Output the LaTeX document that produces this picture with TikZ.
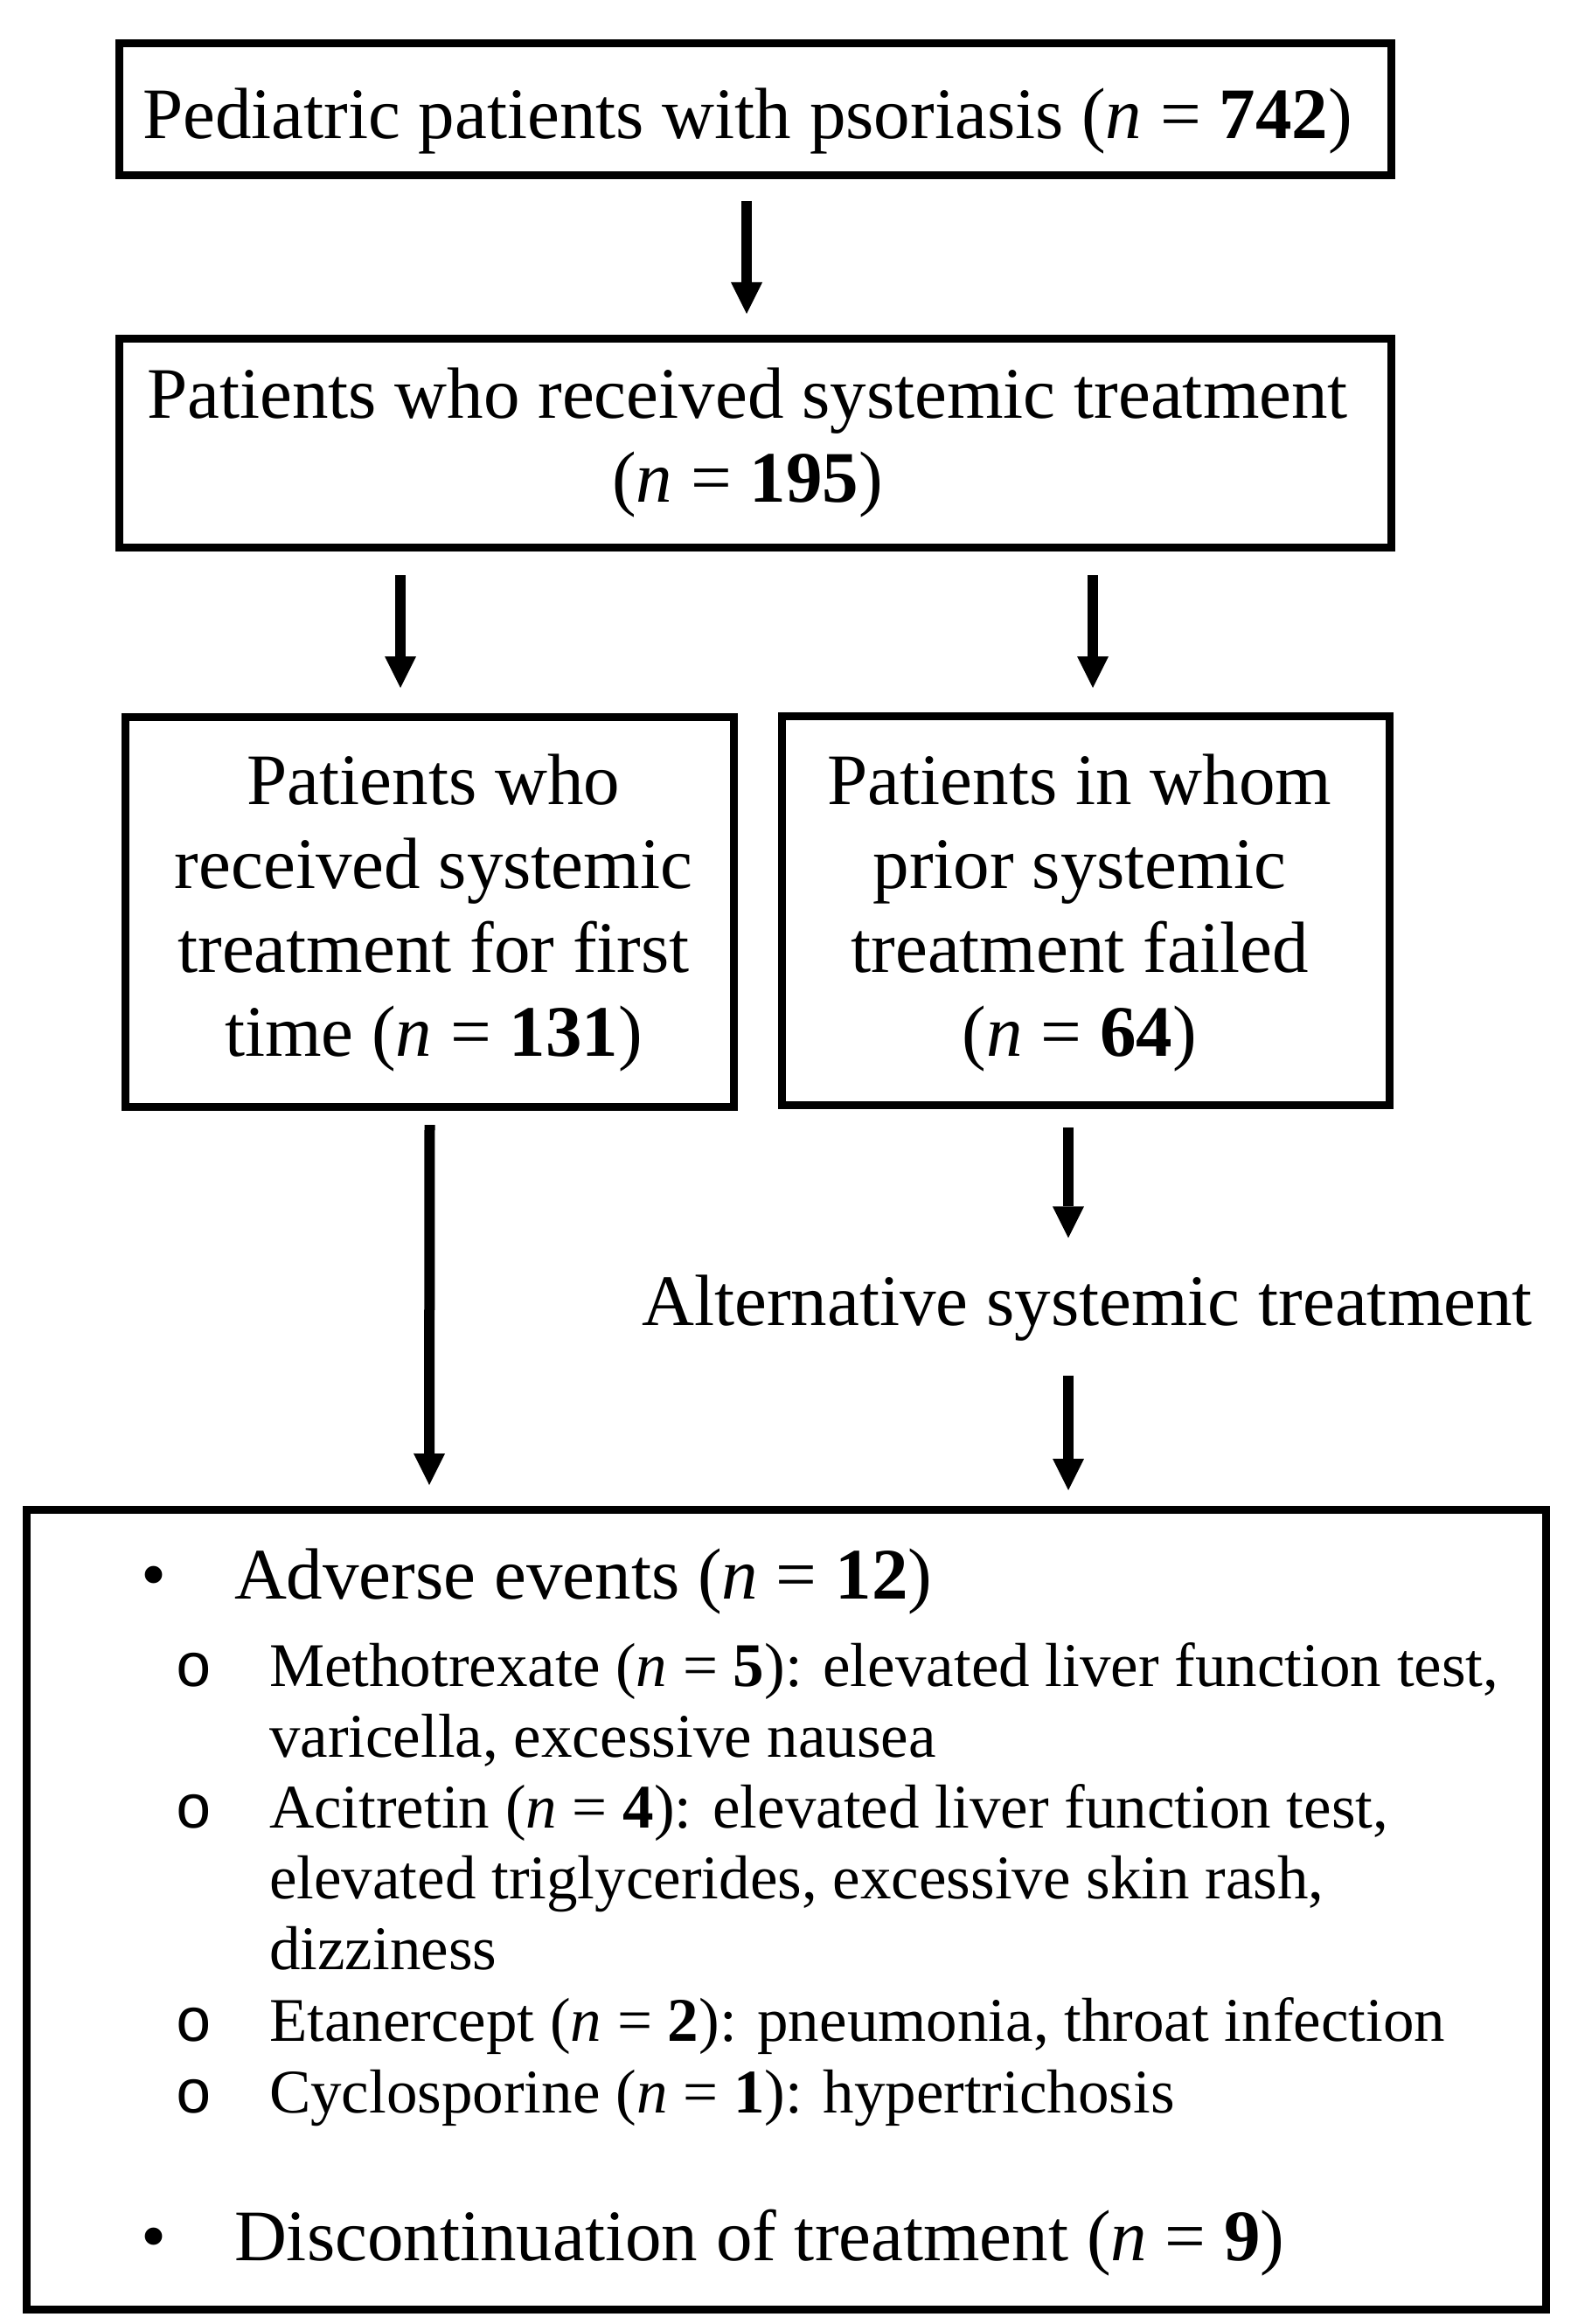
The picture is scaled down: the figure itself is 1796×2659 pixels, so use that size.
\documentclass[tikz,border=0pt]{standalone}
\usepackage{fontspec}
\setmainfont{Liberation Serif}
\newfontfamily\monofont{Liberation Mono}
\usetikzlibrary{arrows.meta}
\begin{document}
\begin{tikzpicture}[x=0.5pt,y=-0.5pt,
  box/.style={draw=black,line width=4.5pt,inner sep=0pt,outer sep=2.25pt},
  big/.style={font=\fontsize{41.5}{48}\selectfont,inner sep=0pt,outer sep=0pt},
  small/.style={font=\fontsize{35.5}{41}\selectfont,inner sep=0pt,outer sep=0pt},
  arr/.style={line width=6pt,-{Triangle[width=18pt,length=18pt,line width=0pt]}}]
\useasboundingbox[fill=white] (0,0) rectangle (1796,2659);
% boxes
\node[box,minimum width=727.5pt,minimum height=75.5pt] (b1) at (864,125) {};
\node[box,minimum width=727.5pt,minimum height=119.5pt] (b2) at (864,507) {};
\node[box,minimum width=348pt,minimum height=223pt] (b3) at (491.5,1043.5) {};
\node[box,minimum width=347.5pt,minimum height=222.5pt] (b4) at (1242,1042) {};
\node[box,minimum width=869pt,minimum height=457.5pt] (b5) at (899.5,2185) {};
% texts
\node[big,anchor=base] (t1) at (855,159) {Pediatric patients with psoriasis (\textit{n} = \textbf{742})};
\node[big,anchor=base] (t2a) at (855,478) {Patients who received systemic treatment};
\node[big,anchor=base] (t2b) at (855,574) {(\textit{n} = \textbf{195})};
\node[big,anchor=base] (t3a) at (496,920) {Patients who};
\node[big,anchor=base] (t3b) at (496,1016) {received systemic};
\node[big,anchor=base] (t3c) at (496,1112) {treatment for first};
\node[big,anchor=base] (t3d) at (496,1208) {time (\textit{n} = \textbf{131})};
\node[big,anchor=base] (t4a) at (1235,920) {Patients in whom};
\node[big,anchor=base] (t4b) at (1235,1016) {prior systemic};
\node[big,anchor=base] (t4c) at (1235,1112) {treatment failed};
\node[big,anchor=base] (t4d) at (1235,1208) {(\textit{n} = \textbf{64})};
\node[big,anchor=base] (alt) at (1243.5,1516) {Alternative systemic treatment};
% bottom list
\node[big,anchor=base] (bu1) at (176,1829) {•};
\node[big,anchor=base west] (ae) at (268,1829) {Adverse events (\textit{n} = \textbf{12})};
\node[small,anchor=base] (c1) at (222,1929) {\monofont o};
\node[small,anchor=base west] (m1) at (308,1929) {Methotrexate (\textit{n} = \textbf{5}): elevated liver function test,};
\node[small,anchor=base west] (m2) at (308,2010) {varicella, excessive nausea};
\node[small,anchor=base] (c2) at (222,2091) {\monofont o};
\node[small,anchor=base west] (a1) at (308,2091) {Acitretin (\textit{n} = \textbf{4}): elevated liver function test,};
\node[small,anchor=base west] (a2) at (308,2172) {elevated triglycerides, excessive skin rash,};
\node[small,anchor=base west] (a3) at (308,2253) {dizziness};
\node[small,anchor=base] (c3) at (222,2335) {\monofont o};
\node[small,anchor=base west] (e1) at (308,2335) {Etanercept (\textit{n} = \textbf{2}): pneumonia, throat infection};
\node[small,anchor=base] (c4) at (222,2417) {\monofont o};
\node[small,anchor=base west] (cy) at (308,2417) {Cyclosporine (\textit{n} = \textbf{1}): hypertrichosis};
\node[big,anchor=base] (bu2) at (176,2586) {•};
\node[big,anchor=base west] (dc) at (268,2586) {Discontinuation of treatment (\textit{n} = \textbf{9})};
% arrows
\draw[arr] ([xshift=-5pt,yshift=-12.5pt]b1.south) -- ([xshift=-5pt,yshift=12pt]b2.north);
\draw[arr] ([xshift=-203pt,yshift=-13.5pt]b2.south) -- ([xshift=-16.75pt,yshift=14.5pt]b3.north);
\draw[arr] ([xshift=193pt,yshift=-13.5pt]b2.south) -- ([xshift=4pt,yshift=14pt]b4.north);
\draw[arr] ([yshift=-8pt]b3.south) -- ([xshift=-204.25pt,yshift=12pt]b5.north);
\draw[arr] ([xshift=-10pt,yshift=-10.5pt]b4.south) -- ([xshift=-10.75pt,yshift=21pt]alt.north);
\draw[arr] ([xshift=-10.75pt,yshift=-20pt]alt.south) -- ([xshift=161.25pt,yshift=9pt]b5.north);
\end{tikzpicture}
\end{document}
